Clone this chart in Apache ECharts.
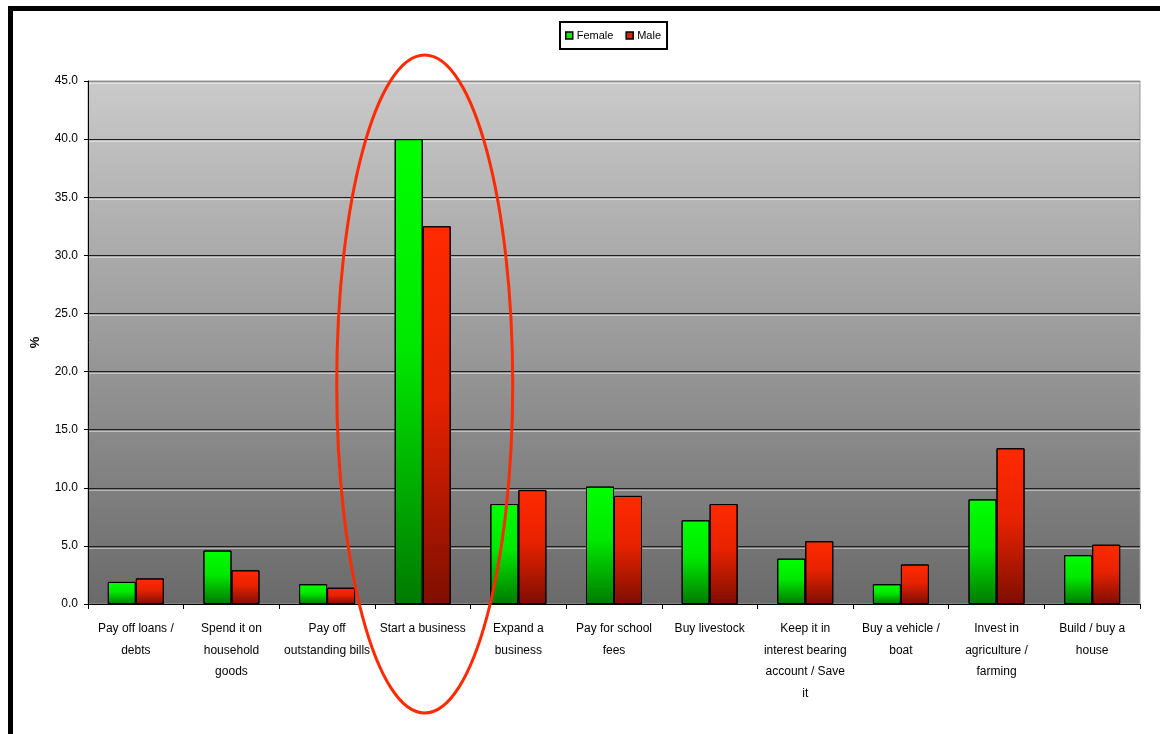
<!DOCTYPE html>
<html>
<head>
<meta charset="utf-8">
<script src="https://cdn.jsdelivr.net/npm/echarts@6/dist/echarts.min.js"></script>
<style>
html,body{margin:0;padding:0;background:#fff;}
#chart{width:1160px;height:734px;}
</style>
</head>
<body>
<div id="chart"></div>
<script>
const categories = [
  "Pay off loans /\ndebts",
  "Spend it on\nhousehold\ngoods",
  "Pay off\noutstanding bills",
  "Start a business",
  "Expand a\nbusiness",
  "Pay for school\nfees",
  "Buy livestock",
  "Keep it in\ninterest bearing\naccount / Save\nit",
  "Buy a vehicle /\nboat",
  "Invest in\nagriculture /\nfarming",
  "Build / buy a\nhouse"
];
const female = [1.9, 4.6, 1.7, 40.0, 8.6, 10.1, 7.2, 3.9, 1.7, 9.0, 4.2];
const male   = [2.2, 2.9, 1.4, 32.5, 9.8, 9.3, 8.6, 5.4, 3.4, 13.4, 5.1];
const yTicks = { min: 0, max: 45, interval: 5 };
const highlightedCategory = 3;

const FONT = "'Liberation Sans Narrow', 'Liberation Sans', Arial, sans-serif";
const chart = echarts.init(document.getElementById('chart'));

function grad(stops) {
  return { type: 'linear', x: 0, y: 0, x2: 0, y2: 1,
    colorStops: stops.map(s => ({ offset: s[0], color: s[1] })) };
}

const splitColors = [];
for (let v = yTicks.min; v <= yTicks.max; v += yTicks.interval) {
  splitColors.push(v === yTicks.max ? '#8c8c8c' : '#1e1e1e');
}

chart.setOption({
  animation: false,
  backgroundColor: '#ffffff',
  textStyle: { fontFamily: FONT },
  legend: {
    left: 560, top: 22,
    padding: [8, 6, 8, 5],
    borderColor: '#000', borderWidth: 2,
    itemWidth: 7, itemHeight: 7, itemGap: 12,
    textStyle: { fontFamily: FONT, fontSize: 11, color: '#000', padding: [0, 0, 0, -1] },
    data: [
      { name: 'Female', icon: 'rect', itemStyle: { color: '#00ee00', borderColor: '#000', borderWidth: 1.5 } },
      { name: 'Male', icon: 'rect', itemStyle: { color: '#e02000', borderColor: '#000', borderWidth: 1.5 } }
    ]
  },
  grid: {
    left: 88, right: 20, top: 81, bottom: 130,
    show: true,
    borderWidth: 1, borderColor: '#9a9a9a',
    backgroundColor: grad([[0, '#cacaca'], [1, '#6a6a6a']])
  },
  xAxis: {
    type: 'category',
    data: categories,
    axisLine: { lineStyle: { color: '#000', width: 1 } },
    axisTick: { show: true, length: 5, lineStyle: { color: '#000' } },
    axisLabel: {
      interval: 0, margin: 14, color: '#000', fontSize: 12, fontFamily: FONT,
      lineHeight: 21.5, align: 'center', verticalAlign: 'top'
    }
  },
  yAxis: {
    type: 'value',
    min: yTicks.min, max: yTicks.max, interval: yTicks.interval,
    name: '%', nameLocation: 'middle', nameGap: 46, nameRotate: 90,
    nameTextStyle: { fontSize: 13, fontWeight: 'bold', color: '#000', fontFamily: FONT },
    axisLine: { show: true, lineStyle: { color: '#000', width: 1 } },
    axisTick: { show: true, length: 4, lineStyle: { color: '#000' } },
    axisLabel: {
      margin: 10, color: '#000', fontSize: 12, fontFamily: FONT,
      formatter: v => v.toFixed(1)
    },
    splitLine: {
      show: true,
      lineStyle: { color: splitColors, width: 1, shadowColor: 'rgba(255,255,255,0.45)', shadowOffsetY: 2, shadowBlur: 0 }
    }
  },
  series: [
    {
      name: 'Female', type: 'bar', data: female,
      barWidth: 28, barGap: '0%',
      itemStyle: {
        color: grad([[0, '#00ff00'], [0.45, '#00e800'], [1, '#007a00']]),
        borderColor: '#000', borderWidth: 1
      }
    },
    {
      name: 'Male', type: 'bar', data: male,
      barWidth: 28, barGap: '0%',
      itemStyle: {
        color: grad([[0, '#ff2a00'], [0.45, '#e82200'], [1, '#7e0e00']]),
        borderColor: '#000', borderWidth: 1
      }
    }
  ]
});

const cx = chart.convertToPixel({ xAxisIndex: 0 }, highlightedCategory);
chart.setOption({
  graphic: [
    {
      type: 'rect', silent: true,
      shape: { x: 10.5, y: 8.5, width: 1300, height: 900 },
      style: { fill: 'none', stroke: '#000', lineWidth: 5 }
    },
    {
      type: 'ellipse', silent: true, z: 100,
      shape: { cx: cx + 2, cy: 384, rx: 88, ry: 329 },
      style: { fill: 'none', stroke: '#ff2a00', lineWidth: 3 }
    }
  ]
});
</script>
</body>
</html>
